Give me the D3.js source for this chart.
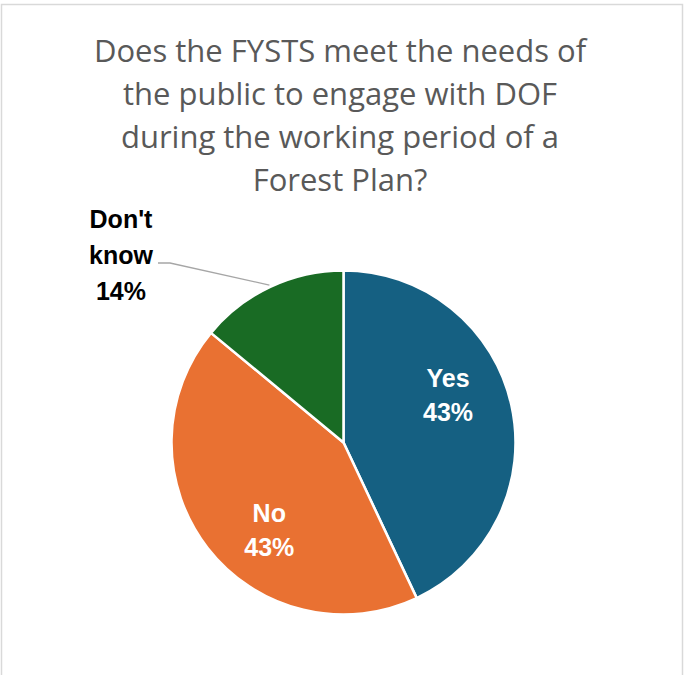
<!DOCTYPE html>
<html>
<head>
<meta charset="utf-8">
<script src="https://cdn.jsdelivr.net/npm/d3@7"></script>
<style>
  html, body { margin: 0; padding: 0; background: #fff; }
  svg { display: block; }
</style>
</head>
<body>
<svg id="chart" width="685" height="675"></svg>
<script>
// Survey responses
const categories = ["Yes", "No", "Don't know"];
const percents = [43, 43, 14];
const colors = ["#156082", "#E97132", "#196B24"];
const titleLines = [
  "Does the FYSTS meet the needs of",
  "the public to engage with DOF",
  "during the working period of a",
  "Forest Plan?"
];

const svg = d3.select("#chart");
const W = 685, H = 675;

// chart frame
svg.append("rect")
  .attr("x", 1.5).attr("y", 4.5)
  .attr("width", W - 4).attr("height", H + 10)
  .attr("fill", "#fff")
  .attr("stroke", "#d9d9d9").attr("stroke-width", 1.5);

// title
const title = svg.append("text")
  .attr("text-anchor", "middle")
  .attr("font-family", "'Open Sans', sans-serif")
  .attr("font-size", 31)
  .attr("fill", "#595959");
titleLines.forEach((t, i) => {
  title.append("tspan").attr("x", 340).attr("y", 62 + i * 43).text(t);
});

// pie
const cx = 343.5, cy = 442.5, R = 172;
const data = categories.map((c, i) => ({ cat: c, value: percents[i], color: colors[i] }));
const pie = d3.pie().value(d => d.value).sort(null);
const arcs = pie(data);
const arc = d3.arc().innerRadius(0).outerRadius(R);

const g = svg.append("g").attr("transform", `translate(${cx},${cy})`);
g.selectAll("path")
  .data(arcs)
  .join("path")
  .attr("d", arc)
  .attr("fill", d => d.data.color)
  .attr("stroke", "#fff")
  .attr("stroke-width", 2.5)
  .attr("stroke-linejoin", "round");

// inside labels (Yes, No), placed a little counter-clockwise of each slice's middle
const labelR = 115, labelTurn = -12 * Math.PI / 180;
arcs.slice(0, 2).forEach(a => {
  const ang = (a.startAngle + a.endAngle) / 2 + labelTurn;
  const x = labelR * Math.sin(ang), y = -labelR * Math.cos(ang);
  const t = g.append("text")
    .attr("text-anchor", "middle")
    .attr("font-family", "'Liberation Sans', Arial, sans-serif")
    .attr("font-weight", "bold")
    .attr("font-size", 25)
    .attr("fill", "#fff");
  t.append("tspan").attr("x", x).attr("y", y - 8).text(a.data.cat);
  t.append("tspan").attr("x", x).attr("y", y + 26).text(a.data.value + "%");
});

// outside label with leader line (Don't know)
const dk = arcs[2];
const mid = (dk.startAngle + dk.endAngle) / 2;
const px = (R + 2) * Math.sin(mid), py = -(R + 2) * Math.cos(mid);
svg.append("polyline")
  .attr("points", [[158, 263], [170, 263], [cx + px, cy + py]].map(p => p.join(",")).join(" "))
  .attr("fill", "none")
  .attr("stroke", "#a6a6a6")
  .attr("stroke-width", 1.3);

const dkText = svg.append("text")
  .attr("text-anchor", "middle")
  .attr("font-family", "'Liberation Sans', Arial, sans-serif")
  .attr("font-weight", "bold")
  .attr("font-size", 25)
  .attr("fill", "#000");
["Don't", "know", dk.data.value + "%"].forEach((s, i) => {
  dkText.append("tspan").attr("x", 121).attr("y", 228 + i * 36).text(s);
});
</script>
</body>
</html>
